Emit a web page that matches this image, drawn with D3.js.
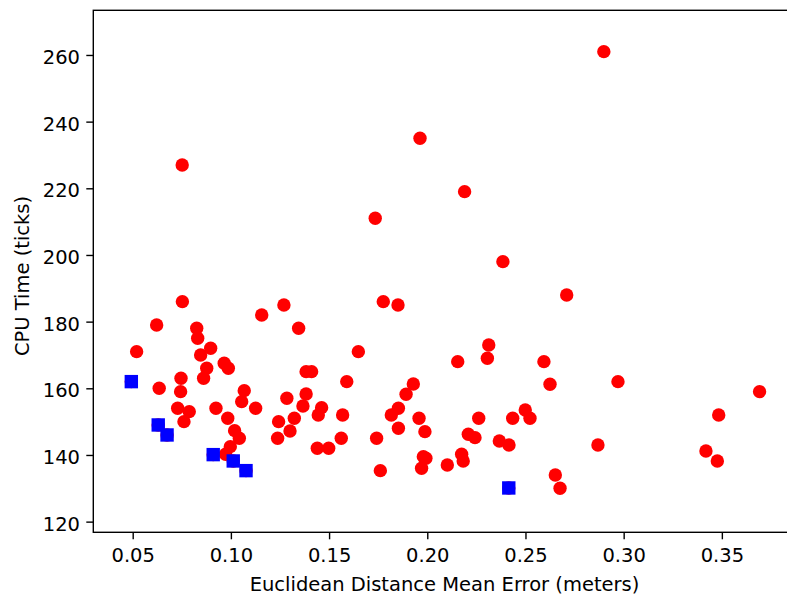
<!DOCTYPE html>
<html>
<head>
<meta charset="utf-8">
<script src="https://cdn.jsdelivr.net/npm/d3@7"></script>
<style>
  html, body { margin: 0; padding: 0; background: #fff; }
  svg { display: block; font-family: "DejaVu Sans", sans-serif; }
</style>
</head>
<body>
<svg id="chart" width="787" height="601"></svg>
<script>
// Every configuration run: mean localisation error (m) and CPU time (ticks)
const errorAll = [
  0.0520, 0.0622, 0.0635, 0.0729, 0.0744, 0.0746, 0.0752, 0.0753, 0.0761, 0.0788,
  0.0826, 0.0831, 0.0846, 0.0861, 0.0877, 0.0897, 0.0924, 0.0966, 0.0987, 0.0984,
  0.0973, 0.0997, 0.1019, 0.1043, 0.1055, 0.1068, 0.1126, 0.1157, 0.1238, 0.1243,
  0.1270, 0.1285, 0.1301, 0.1323, 0.1345, 0.1367, 0.1383, 0.1383, 0.1411, 0.1440,
  0.1445, 0.1462, 0.1498, 0.1562, 0.1569, 0.1590, 0.1649, 0.1735, 0.1742, 0.1761,
  0.1776, 0.1817, 0.1851, 0.1853, 0.1853, 0.1892, 0.1929, 0.1958, 0.1963, 0.1971,
  0.1980, 0.1993, 0.1988, 0.2102, 0.2155, 0.2175, 0.2183, 0.2190, 0.2209, 0.2243,
  0.2262, 0.2306, 0.2313, 0.2367, 0.2385, 0.2416, 0.2435, 0.2499, 0.2523, 0.2594,
  0.2625, 0.2652, 0.2676, 0.2710, 0.2869, 0.2899, 0.2971, 0.3419, 0.3477, 0.3484,
  0.3692,
  0.0493, 0.0630, 0.0675, 0.0910, 0.1012, 0.1077, 0.2415
];
const cpuAll = [
  171, 179, 160, 154, 159, 163, 227, 186, 150, 153,
  178, 175, 170, 163, 166, 172, 154, 167.5, 166, 151,
  140.2, 142.5, 147.3, 145, 156, 159.3, 154, 182, 145, 150,
  185, 157, 147.2, 151, 178, 154.7, 158.3, 165, 165, 142,
  152, 154.2, 142, 145, 152, 162, 171, 211, 145, 135.3,
  186, 152, 185, 154, 148, 158.2, 161.3, 151, 235, 136,
  139.5, 139, 147, 137, 168, 140.2, 138.2, 219, 146.2, 145.2,
  151, 169, 173, 144.2, 198, 143, 151, 153.5, 151, 168,
  161.2, 134, 130, 188, 143, 261, 162, 141.2, 138.2, 152,
  159,
  162, 149, 146, 140.1, 138.2, 135.3, 130.1
];

// Non-dominated runs (lowest CPU time for their error)
const errorBest = [0.0493, 0.0630, 0.0675, 0.0910, 0.1012, 0.1077, 0.2415];
const cpuBest   = [162, 149, 146, 140.1, 138.2, 135.3, 130.1];

const xTickValues = [0.05, 0.10, 0.15, 0.20, 0.25, 0.30, 0.35];
const yTickValues = [120, 140, 160, 180, 200, 220, 240, 260];
const xLabel = "Euclidean Distance Mean Error (meters)";
const yLabel = "CPU Time (ticks)";

const svg = d3.select("#chart");
const box = { left: 93.3, top: 10.3, right: 795.7, bottom: 532.3 };
const fontSize = 19.5;

const x = d3.scaleLinear().domain([0.02994, 0.3876]).range([box.left, box.right]);
const y = d3.scaleLinear().domain([116.8, 273.4]).range([box.bottom, box.top]);

// points
const allPts = errorAll.map((e, i) => ({ e, c: cpuAll[i] }));
const bestPts = errorBest.map((e, i) => ({ e, c: cpuBest[i] }));

svg.append("g").selectAll("circle").data(allPts).join("circle")
  .attr("cx", d => x(d.e))
  .attr("cy", d => y(d.c))
  .attr("r", 6.7)
  .attr("fill", "#ff0000");

const side = 13.4;
svg.append("g").selectAll("rect").data(bestPts).join("rect")
  .attr("x", d => x(d.e) - side / 2)
  .attr("y", d => y(d.c) - side / 2)
  .attr("width", side)
  .attr("height", side)
  .attr("fill", "#0000ff");

// axes
const xAxis = svg.append("g")
  .attr("transform", `translate(0,${box.bottom})`)
  .call(d3.axisBottom(x).tickValues(xTickValues).tickFormat(d3.format(".2f"))
    .tickSize(7).tickPadding(9).tickSizeOuter(0));
const yAxis = svg.append("g")
  .attr("transform", `translate(${box.left},0)`)
  .call(d3.axisLeft(y).tickValues(yTickValues).tickFormat(d3.format("d"))
    .tickSize(7).tickPadding(6.3).tickSizeOuter(0));

[xAxis, yAxis].forEach(g => {
  g.select(".domain").remove();
  g.selectAll(".tick line").attr("stroke", "#000").attr("stroke-width", 1.4);
  g.selectAll(".tick text")
    .attr("fill", "#000")
    .style("font-family", '"DejaVu Sans", sans-serif')
    .style("font-size", fontSize + "px");
});
yAxis.selectAll(".tick text").attr("dy", "0.43em");

// frame
svg.append("rect")
  .attr("x", box.left).attr("y", box.top)
  .attr("width", box.right - box.left).attr("height", box.bottom - box.top)
  .attr("fill", "none").attr("stroke", "#000").attr("stroke-width", 1.4);

// axis titles
svg.append("text")
  .attr("x", 444.5).attr("y", 591)
  .attr("text-anchor", "middle")
  .style("font-size", fontSize + "px")
  .attr("fill", "#000")
  .text(xLabel);

svg.append("text")
  .attr("transform", "translate(29,276) rotate(-90)")
  .attr("text-anchor", "middle")
  .style("font-size", fontSize + "px")
  .attr("fill", "#000")
  .text(yLabel);
</script>
</body>
</html>
